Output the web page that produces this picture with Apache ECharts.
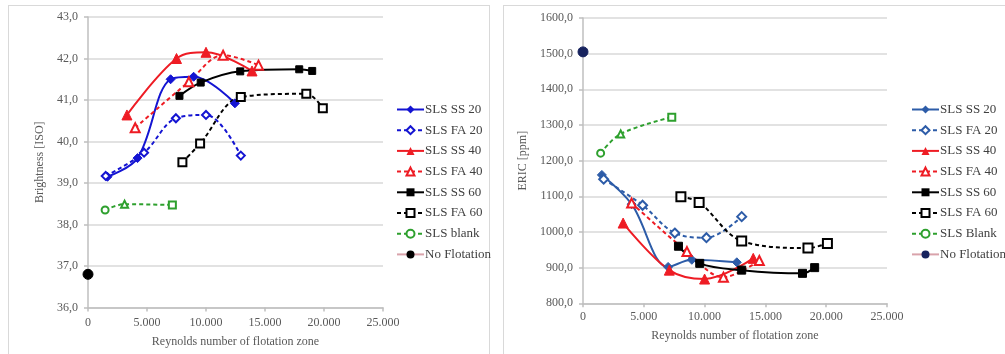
<!DOCTYPE html>
<html>
<head>
<meta charset="utf-8">
<script src="https://cdn.jsdelivr.net/npm/echarts@6/dist/echarts.min.js"></script>
<style>
  html, body { margin: 0; padding: 0; background: #fff; width: 1005px; height: 354px; overflow: hidden; }
  #wrap { position: relative; width: 1005px; height: 354px; }
  .frame { position: absolute; border: 1.5px solid #d9d9d9; box-sizing: border-box; }
  #frameL { left: 8px; top: 5px; width: 482px; height: 360px; }
  #frameR { left: 503px; top: 5px; width: 520px; height: 360px; }
  .chart { position: absolute; top: 0; height: 354px; }
  #chartL { left: 0; width: 500px; }
  #chartR { left: 500px; width: 505px; }
</style>
</head>
<body>
<div id="wrap">
  <div class="frame" id="frameL"></div>
  <div class="frame" id="frameR"></div>
  <div class="chart" id="chartL"></div>
  <div class="chart" id="chartR"></div>
</div>
<script>
// Reynolds number of flotation zone vs. brightness (ISO)
const briSS20   = [[1650, 39.15], [4200, 39.60], [7000, 41.50], [8950, 41.56], [12450, 40.92]];
const briFA20   = [[1500, 39.17], [4750, 39.73], [7450, 40.56], [10000, 40.64], [12950, 39.66]];
const briSS40   = [[3300, 40.64], [7500, 42.00], [10000, 42.15], [13900, 41.70]];
const briFA40   = [[4000, 40.33], [8550, 41.44], [11450, 42.08], [14450, 41.84]];
const briSS60   = [[7750, 41.10], [9550, 41.42], [12900, 41.69], [17900, 41.74], [19000, 41.70]];
const briFA60   = [[8000, 39.50], [9500, 39.95], [12950, 41.07], [18500, 41.15], [19900, 40.80]];
const briBlank  = [[1450, 38.35], [3100, 38.49], [7150, 38.47]];
const briNoFlot = [[0, 36.80]];

// Reynolds number of flotation zone vs. ERIC (ppm)
const ericSS20   = [[1550, 1160], [4000, 1078], [7000, 902], [8950, 922], [12650, 915]];
const ericFA20   = [[1700, 1148], [4900, 1075], [7550, 997], [10150, 984], [13050, 1043]];
const ericSS40   = [[3300, 1025], [7100, 893], [10000, 868], [14000, 926]];
const ericFA40   = [[4000, 1081], [8550, 945], [11550, 873], [14500, 920]];
const ericSS60   = [[7850, 960], [9600, 912], [13050, 893], [18050, 884], [19050, 900]];
const ericFA60   = [[8050, 1099], [9550, 1083], [13050, 975], [18500, 955], [20100, 968]];
const ericBlank  = [[1450, 1221], [3100, 1275], [7300, 1322]];
const ericNoFlot = [[0, 1505]];

const xMin = 0, xMax = 25000, xStep = 5000;

const FONT = 'Liberation Serif';
const TXT = '#595959';
const GRID = '#d9d9d9';

const fmtX = v => v === 0 ? '0' : String(v).replace(/\B(?=(\d{3})+(?!\d))/g, '.');
const fmtY = v => v.toFixed(1).replace('.', ',');

// marker shapes along the blank series
const blankShapes = ['emptyCircle', 'emptyTriangle', 'emptyRect'];

function line(name, data, color, dashed, symbol, size, opts) {
  opts = opts || {};
  return {
    name, type: 'line', data,
    smooth: opts.smooth === undefined ? 0.35 : opts.smooth,
    symbol, symbolSize: size,
    color,
    lineStyle: { color: opts.lineColor || color, width: 2, type: dashed ? [4, 3] : 'solid' },
    itemStyle: { color, borderColor: color },
    emphasis: { disabled: true },
    z: opts.z || 2
  };
}

function blank(name, data, color) {
  return line(name, data.map((p, i) => ({ value: p, symbol: blankShapes[i] })), color, true, 'emptyCircle', 7);
}

function axisX(nameGap, labelMargin) {
  return {
    type: 'value', min: xMin, max: xMax, interval: xStep,
    name: 'Reynolds number of flotation zone', nameLocation: 'middle', nameGap,
    nameTextStyle: { fontFamily: FONT, fontSize: 12, color: TXT },
    axisLine: { show: true, lineStyle: { color: '#bfbfbf', width: 1.5 } },
    axisTick: { show: true, length: 4, lineStyle: { color: '#bfbfbf', width: 1.5 } },
    axisLabel: { formatter: fmtX, fontFamily: FONT, fontSize: 12, color: TXT, margin: labelMargin },
    splitLine: { show: false }
  };
}

function axisY(name, min, max, step, nameGap) {
  return {
    type: 'value', min, max, interval: step,
    name, nameLocation: 'middle', nameGap,
    nameTextStyle: { fontFamily: FONT, fontSize: 12, color: TXT },
    axisLine: { show: true, lineStyle: { color: '#bfbfbf', width: 1.5 } },
    axisTick: { show: true, length: 4, lineStyle: { color: '#bfbfbf', width: 1.5 } },
    axisLabel: { formatter: fmtY, fontFamily: FONT, fontSize: 12, color: TXT, margin: 10 },
    splitLine: { show: true, lineStyle: { color: GRID, width: 1.5 } }
  };
}

function legend(left, top) {
  return {
    orient: 'vertical', left, top, padding: 0,
    itemWidth: 27, itemHeight: 10, itemGap: 7.7,
    textStyle: { fontFamily: FONT, fontSize: 13, color: '#404040', padding: [0, 0, 0, -4] },
    selectedMode: false
  };
}

// Brightness panel
const left = echarts.init(document.getElementById('chartL'), null, { renderer: 'canvas' });
const BLUE_L = '#1414d2', RED = '#ee1c24', BLACK = '#000000', GREEN = '#2ea02e';
left.setOption({
  animation: false,
  grid: { left: 88, top: 17, width: 295, height: 290.5 },
  legend: legend(396, 103),
  xAxis: axisX(28, 9),
  yAxis: axisY('Brightness [ISO]', 36, 43, 1, 32),
  series: [
    line('SLS SS 20', briSS20, BLUE_L, false, 'diamond', 9),
    line('SLS FA 20', briFA20, BLUE_L, true, 'emptyDiamond', 8),
    line('SLS SS 40', briSS40, RED, false, 'triangle', 10),
    line('SLS FA 40', briFA40, RED, true, 'emptyTriangle', 9),
    line('SLS SS 60', briSS60, BLACK, false, 'rect', 7),
    line('SLS FA 60', briFA60, BLACK, true, 'emptyRect', 8),
    blank('SLS blank', briBlank, GREEN),
    line('No Flotation', briNoFlot, BLACK, false, 'circle', 10, { lineColor: '#d9a3ab' })
  ]
});

// ERIC panel
const right = echarts.init(document.getElementById('chartR'), null, { renderer: 'canvas' });
const BLUE_R = '#2d5ca8', NAVY = '#17235e';
right.setOption({
  animation: false,
  grid: { left: 83, top: 18, width: 304, height: 285.3 },
  legend: legend(411, 103),
  xAxis: axisX(27, 8),
  yAxis: axisY('ERIC [ppm]', 800, 1600, 100, 43),
  series: [
    line('SLS SS 20', ericSS20, BLUE_R, false, 'diamond', 9),
    line('SLS FA 20', ericFA20, BLUE_R, true, 'emptyDiamond', 9),
    line('SLS SS 40', ericSS40, RED, false, 'triangle', 10),
    line('SLS FA 40', ericFA40, RED, true, 'emptyTriangle', 9),
    line('SLS SS 60', ericSS60, BLACK, false, 'rect', 8),
    line('SLS FA 60', ericFA60, BLACK, true, 'emptyRect', 9),
    blank('SLS Blank', ericBlank, GREEN),
    line('No Flotation', ericNoFlot, NAVY, false, 'circle', 10, { lineColor: '#d9a3ab' })
  ]
});
</script>
</body>
</html>
